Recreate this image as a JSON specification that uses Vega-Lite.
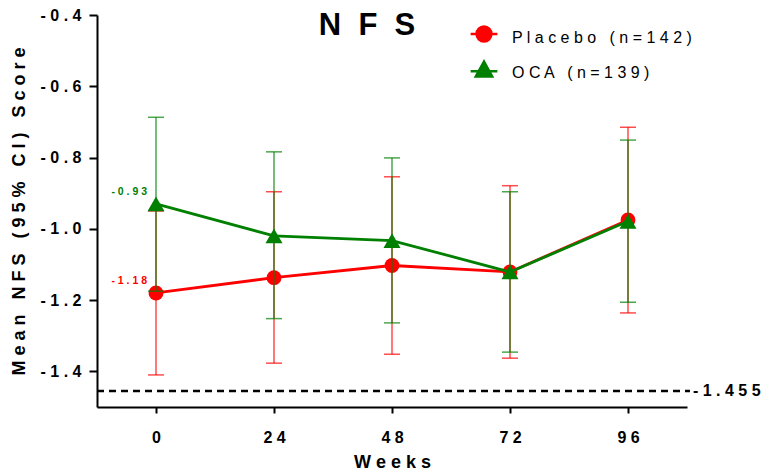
{
  "$schema": "https://vega.github.io/schema/vega-lite/v6.json",
  "width": 590,
  "height": 392,
  "autosize": "none",
  "padding": {"left": 97, "top": 15, "right": 74, "bottom": 65},
  "background": "white",
  "config": {
    "view": {"stroke": null},
    "font": "Liberation Sans",
    "axis": {
      "grid": false,
      "domainColor": "black",
      "domainWidth": 2,
      "tickColor": "black",
      "tickWidth": 2,
      "labelColor": "black",
      "labelFont": "Liberation Sans",
      "labelFontWeight": "bold",
      "labelFontSize": 16,
      "titleColor": "black",
      "titleFont": "Liberation Sans",
      "titleFontWeight": "bold",
      "titleFontSize": 18
    }
  },
  "title": {
    "text": "N\u00a0 F\u00a0 S",
    "fontSize": 31,
    "fontWeight": "bold",
    "font": "Liberation Sans",
    "color": "black",
    "anchor": "middle",
    "dx": -25,
    "dy": 38,
    "baseline": "alphabetic",
    "offset": -21
  },
  "datasets": {
    "nfs": [
      {"week": 0, "group": "Placebo\u00a0(n=142)", "mean": -1.18, "lower": -1.41, "upper": -0.95},
      {"week": 24, "group": "Placebo\u00a0(n=142)", "mean": -1.137, "lower": -1.377, "upper": -0.896},
      {"week": 48, "group": "Placebo\u00a0(n=142)", "mean": -1.103, "lower": -1.352, "upper": -0.854},
      {"week": 72, "group": "Placebo\u00a0(n=142)", "mean": -1.121, "lower": -1.363, "upper": -0.879},
      {"week": 96, "group": "Placebo\u00a0(n=142)", "mean": -0.975, "lower": -1.236, "upper": -0.715},
      {"week": 0, "group": "OCA\u00a0(n=139)", "mean": -0.93, "lower": -1.175, "upper": -0.687},
      {"week": 24, "group": "OCA\u00a0(n=139)", "mean": -1.02, "lower": -1.252, "upper": -0.784},
      {"week": 48, "group": "OCA\u00a0(n=139)", "mean": -1.033, "lower": -1.264, "upper": -0.801},
      {"week": 72, "group": "OCA\u00a0(n=139)", "mean": -1.121, "lower": -1.346, "upper": -0.896},
      {"week": 96, "group": "OCA\u00a0(n=139)", "mean": -0.979, "lower": -1.206, "upper": -0.751}
    ],
    "refline": [
      {"xstart": -12, "xend": 108.6, "ref": -1.455, "ref_label": "- 1 . 4 5 5"}
    ]
  },
  "layer": [
    {
      "data": {"name": "nfs"},
      "encoding": {
        "x": {
          "field": "week",
          "type": "quantitative",
          "scale": {"domain": [-12, 108], "nice": false, "zero": false},
          "axis": {
            "values": [0, 24, 48, 72, 96],
            "format": "d",
            "labelExpr": "join(split(datum.label,''),' ')",
            "tickSize": 6,
            "labelPadding": 16,
            "title": "W e e k s",
            "titlePadding": 8
          }
        },
        "color": {
          "field": "group",
          "type": "nominal",
          "scale": {"domain": ["Placebo\u00a0(n=142)", "OCA\u00a0(n=139)"], "range": ["#ff0000", "#008000"]},
          "legend": {
            "title": null,
            "orient": "none",
            "legendX": 378,
            "legendY": 10,
            "padding": 0,
            "symbolSize": 220,
            "symbolStrokeWidth": 2.5,
            "labelFontSize": 16,
            "labelFont": "Liberation Sans",
            "labelColor": "black",
            "labelOffset": 19,
            "labelLimit": 400,
            "rowPadding": 9,
            "labelExpr": "join(split(datum.label,''),' ')",
            "encode": {
              "symbols": {
                "update": {
                  "shape": {"signal": "datum.value === 'Placebo\u00a0(n=142)' ? 'M-1,0A1,1,0,1,0,1,0A1,1,0,1,0,-1,0Z M-1.8,0H1.8' : 'M-1.1,1L0,-1L1.1,1Z M-1.8,0.3H1.8'"},
                  "stroke": {"signal": "datum.value === 'Placebo\u00a0(n=142)' ? '#ff0000' : '#008000'"},
                  "fill": {"signal": "datum.value === 'Placebo\u00a0(n=142)' ? '#ff0000' : '#008000'"},
                  "strokeWidth": {"value": 2.5},
                  "opacity": {"value": 1}
                }
              },
              "labels": {"update": {"dy": {"value": 4}}}
            }
          }
        }
      },
      "layer": [
        {
          "transform": [{"filter": {"field": "group", "equal": "Placebo\u00a0(n=142)"}}],
          "layer": [
            {
              "mark": {"type": "rule", "strokeWidth": 1.5, "opacity": 0.7},
              "encoding": {
                "y": {
                  "field": "lower",
                  "type": "quantitative",
                  "scale": {"domain": [-1.5, -0.4], "nice": false, "zero": false},
                  "axis": {
                    "values": [-1.4, -1.2, -1.0, -0.8, -0.6, -0.4],
                    "format": ".1f",
                    "labelExpr": "join(split(replace(datum.label,'\u2212','-'),''),' ')",
                    "tickSize": 8,
                    "labelPadding": 8,
                    "title": "M e a n \u00a0 N F S \u00a0 ( 9 5 % \u00a0 C I ) \u00a0 S c o r e",
                    "titlePadding": 12
                  }
                },
                "y2": {"field": "upper"}
              }
            },
            {
              "mark": {"type": "tick", "orient": "horizontal", "size": 16, "thickness": 1.5, "opacity": 0.7},
              "encoding": {"y": {"field": "lower", "type": "quantitative"}}
            },
            {
              "mark": {"type": "tick", "orient": "horizontal", "size": 16, "thickness": 1.5, "opacity": 0.7},
              "encoding": {"y": {"field": "upper", "type": "quantitative"}}
            },
            {
              "mark": {"type": "line", "strokeWidth": 2.8},
              "encoding": {"y": {"field": "mean", "type": "quantitative"}}
            },
            {
              "mark": {"type": "point", "filled": true, "opacity": 1, "size": 220, "shape": "circle"},
              "encoding": {"y": {"field": "mean", "type": "quantitative"}}
            }
          ]
        },
        {
          "transform": [{"filter": {"field": "group", "equal": "OCA\u00a0(n=139)"}}],
          "layer": [
            {
              "mark": {"type": "rule", "strokeWidth": 1.5, "opacity": 0.7},
              "encoding": {
                "y": {"field": "lower", "type": "quantitative"},
                "y2": {"field": "upper"}
              }
            },
            {
              "mark": {"type": "tick", "orient": "horizontal", "size": 16, "thickness": 1.5, "opacity": 0.7},
              "encoding": {"y": {"field": "lower", "type": "quantitative"}}
            },
            {
              "mark": {"type": "tick", "orient": "horizontal", "size": 16, "thickness": 1.5, "opacity": 0.7},
              "encoding": {"y": {"field": "upper", "type": "quantitative"}}
            },
            {
              "mark": {"type": "line", "strokeWidth": 2.8},
              "encoding": {"y": {"field": "mean", "type": "quantitative"}}
            },
            {
              "mark": {"type": "point", "filled": true, "opacity": 1, "size": 290, "shape": "triangle-up"},
              "encoding": {"y": {"field": "mean", "type": "quantitative"}}
            }
          ]
        },
        {
          "transform": [
            {"filter": "datum.week === 0"},
            {"calculate": "join(split(replace(format(datum.mean,'.2f'),'\u2212','-'),''),' ')", "as": "label"}
          ],
          "mark": {"type": "text", "align": "right", "baseline": "alphabetic", "dx": -9, "dy": -8.5, "fontSize": 10.5, "fontWeight": "bold", "font": "Liberation Sans"},
          "encoding": {
            "y": {"field": "mean", "type": "quantitative"},
            "text": {"field": "label"}
          }
        }
      ]
    },
    {
      "data": {"name": "refline"},
      "mark": {"type": "rule", "strokeDash": [7, 5], "strokeWidth": 2.5, "color": "black"},
      "encoding": {
        "x": {"field": "xstart", "type": "quantitative"},
        "x2": {"field": "xend"},
        "y": {"field": "ref", "type": "quantitative"}
      }
    },
    {
      "data": {"name": "refline"},
      "mark": {"type": "text", "align": "left", "baseline": "middle", "dx": 3, "fontSize": 16, "fontWeight": "bold", "font": "Liberation Sans", "color": "black"},
      "encoding": {
        "x": {"field": "xend", "type": "quantitative"},
        "y": {"field": "ref", "type": "quantitative"},
        "text": {"field": "ref_label"}
      }
    }
  ]
}
